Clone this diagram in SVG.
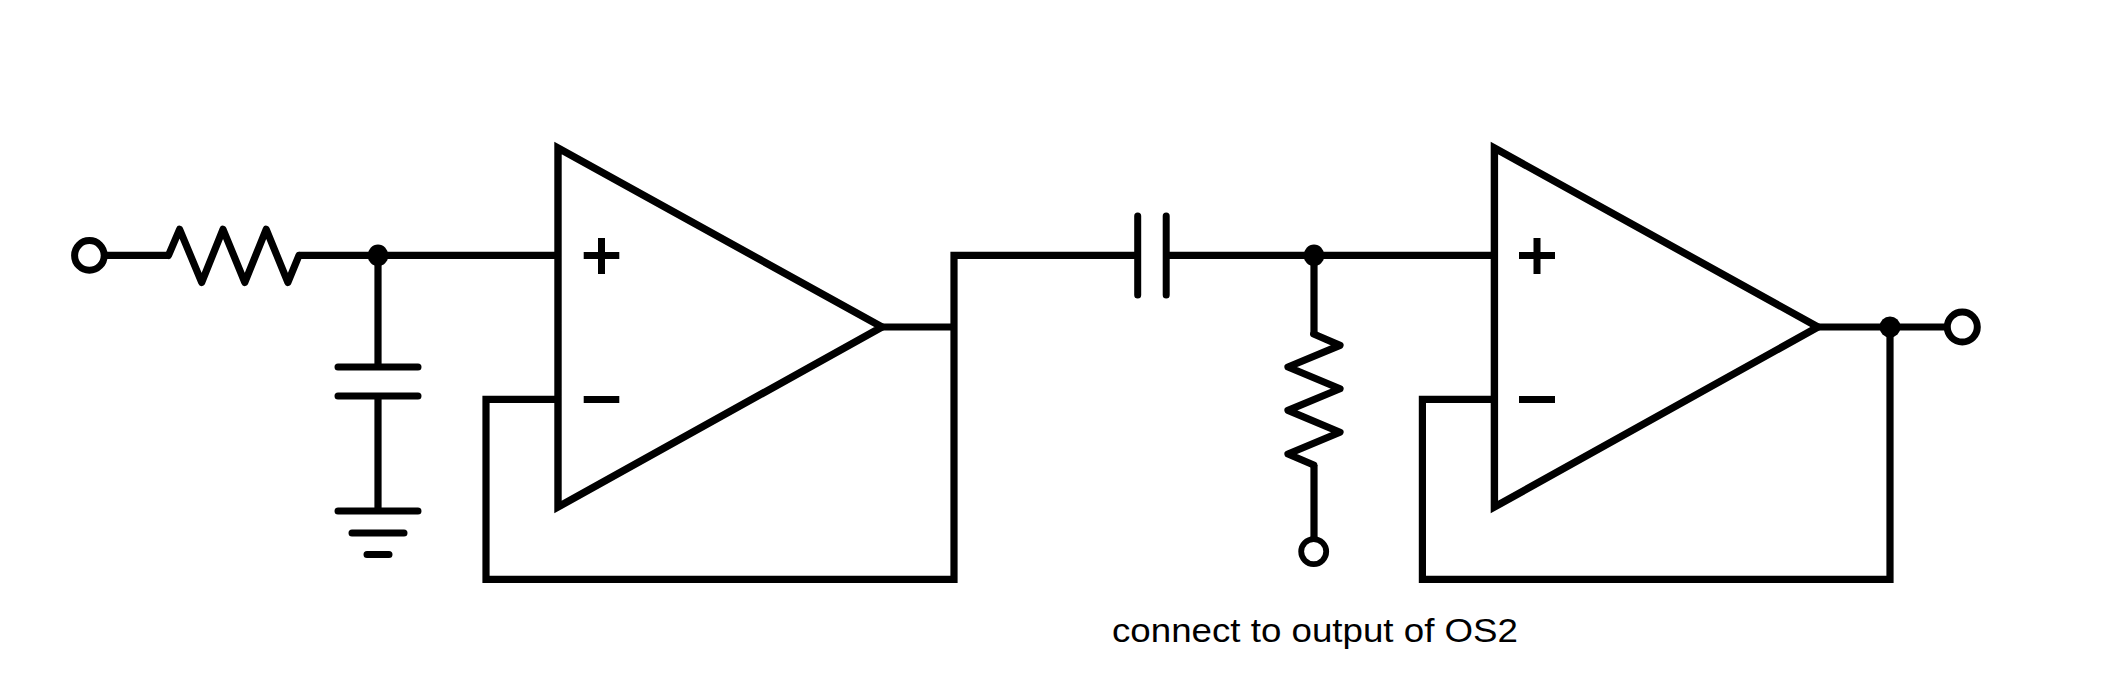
<svg xmlns="http://www.w3.org/2000/svg" width="2126" height="696" viewBox="0 0 2126 696">
<style>
.w{fill:none;stroke:#000;stroke-width:7.2;stroke-linejoin:miter}
.z{fill:none;stroke:#000;stroke-width:7.2;stroke-linejoin:round;stroke-linecap:round}
.p{fill:none;stroke:#000;stroke-width:7;stroke-linecap:round}
.s{fill:none;stroke:#000;stroke-width:7}
.t{fill:#fff;stroke:#000;stroke-width:7}
.d{fill:#000}
.o{fill:#fff;stroke:#000;stroke-width:7.4;stroke-miterlimit:10}
text{font-family:"Liberation Sans",Arial,sans-serif;font-size:34px;fill:#000}
</style>
<rect width="2126" height="696" fill="#fff"/>
<g id="connectors">
<path class="w" d="M104 255.4H168.5"/>
<path class="w" d="M299 255.4H558"/>
<path class="w" d="M378 255.4V367"/>
<path class="w" d="M378 396V511"/>
<path class="w" d="M558 399.4H486V579.4H954V255.4H1137.7"/>
<path class="w" d="M882 327H954"/>
<path class="w" d="M1166.2 255.4H1494.4"/>
<path class="w" d="M1314 255.4V334"/>
<path class="w" d="M1314 465V540"/>
<path class="w" d="M1494.4 399.4H1422.4V579.4H1890V327"/>
<path class="w" d="M1818 327H1947"/>
</g>
<g id="input-terminal"><circle class="t" cx="89.4" cy="255.4" r="14.8"/></g>
<g id="r1"><path class="z" d="M168.5 255.4L179.6 229.3L201.7 282.4L223 229.3L244.8 282.4L266.2 229.3L287.9 282.4L299 255.4"/></g>
<g id="junction-1"><ellipse class="d" cx="378" cy="255.4" rx="10.3" ry="10.8"/></g>
<g id="c1"><path class="p" d="M338 367H418M338 396H418"/></g>
<g id="ground"><path class="p" d="M338 511H418M352 533H404M367 554.4H389"/></g>
<g id="opamp-1">
<path class="o" d="M558 148L882 327L558 507Z"/>
<path class="s" d="M583.7 255.4H619.3M601.5 238V274M583.7 399.4H619.3"/>
</g>
<g id="c2"><path class="p" d="M1137.7 216V295M1166.2 216V295"/></g>
<g id="junction-2"><ellipse class="d" cx="1314" cy="255.4" rx="10.3" ry="10.8"/></g>
<g id="r2"><path class="z" d="M1313.7 334L1340 345.4L1288 367L1340 388.8L1288 410.4L1340 432.2L1288 454L1313.7 465"/></g>
<g id="feedback-terminal"><circle class="t" style="stroke-width:5.8" cx="1313.7" cy="551.6" r="12.5"/></g>
<g id="opamp-2">
<path class="o" d="M1494.4 148L1818 327L1494.4 507Z"/>
<path class="s" d="M1519 255.4H1555M1537 238V274M1519 399.4H1555"/>
</g>
<g id="junction-3"><circle class="d" cx="1890" cy="327" r="10.5"/></g>
<g id="output-terminal"><circle class="t" cx="1962.3" cy="327" r="15"/></g>
<g id="label"><text x="1112" y="642" textLength="406" lengthAdjust="spacingAndGlyphs">connect to output of OS2</text></g>
</svg>
